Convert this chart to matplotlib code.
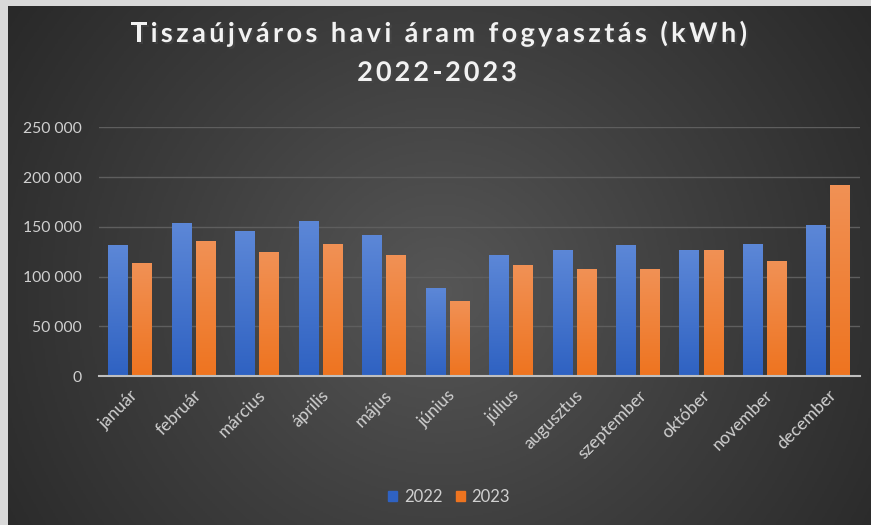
import numpy as np
import matplotlib
matplotlib.use("Agg")
import matplotlib.pyplot as plt
import matplotlib.patheffects as pe
from matplotlib.colors import LinearSegmentedColormap
from matplotlib.font_manager import FontProperties
from matplotlib.patches import Patch
from matplotlib.ticker import FuncFormatter

# adatok (leolvasva)
months = ["január", "február", "március", "április", "május", "június",
          "július", "augusztus", "szeptember", "október", "november", "december"]
kwh_2022 = [130800, 153300, 145600, 155600, 141600, 88000,
            120800, 126500, 131300, 125800, 132500, 151600]
kwh_2023 = [113100, 135500, 123800, 131800, 121200, 75300,
            111100, 107400, 107100, 125800, 114800, 191800]
years = ["2022", "2023"]
title_lines = ["Tiszaújváros havi áram fogyasztás (kWh)", "2022-2023"]

plt.rcParams["font.family"] = ["Lato", "DejaVu Sans"]

W, H = 871, 525
fig = plt.figure(figsize=(W / 100, H / 100), dpi=100)
fig.patch.set_facecolor("#D9D9D9")

# sötét háttér radiális színátmenettel
bg = fig.add_axes([8 / W, 0, 1 - 8 / W, 1 - 6 / H])
bg.axis("off")
yy, xx = np.mgrid[0:1:300j, 0:1:500j]
r = np.sqrt((xx - 0.5) ** 2 + ((yy - 0.45) * 0.62) ** 2)
r = np.clip(r / 0.62, 0, 1)
bg_cmap = LinearSegmentedColormap.from_list("bg", ["#565656", "#3e3e3e", "#282828"])
bg.imshow(r, cmap=bg_cmap, extent=[0, 1, 0, 1], aspect="auto", origin="lower", vmin=0, vmax=1)
bg.set_xlim(0, 1)
bg.set_ylim(0, 1)

ax = fig.add_axes([98.5 / W, 1 - 376 / H, (860 - 98.5) / W, (376 - 127.3) / H])
ax.set_facecolor("none")

x = np.arange(len(months))
bw = 0.31
off = 0.19
colors = {"2022": ("#5C87D7", "#2F62C2"), "2023": ("#F19155", "#EE7420")}

for vals, sgn, yr in [(kwh_2022, -1, "2022"), (kwh_2023, 1, "2023")]:
    top_c, bot_c = colors[yr]
    bars = ax.bar(x + sgn * off, vals, width=bw, color=bot_c, zorder=2)
    cm = LinearSegmentedColormap.from_list(yr, [bot_c, top_c])
    grad = np.linspace(0, 1, 100).reshape(-1, 1)
    for b in bars:
        x0 = b.get_x()
        ax.imshow(grad, cmap=cm, extent=[x0, x0 + b.get_width(), 0, b.get_height()],
                  aspect="auto", origin="lower", zorder=3)

ax.set_xlim(-0.5, len(months) - 0.5)
ax.set_ylim(0, 250000)
ax.set_yticks(range(0, 250001, 50000))
ax.yaxis.set_major_formatter(FuncFormatter(lambda v, p: f"{int(v):,}".replace(",", " ")))
ax.grid(axis="y", color="#5e5e5e", linewidth=1, zorder=0)
ax.set_axisbelow(True)
for s in ["top", "right", "left"]:
    ax.spines[s].set_visible(False)
ax.spines["bottom"].set_color("#BFBFBF")
ax.spines["bottom"].set_linewidth(1.5)
ax.spines["bottom"].set_zorder(4)

ax.set_xticks(x)
ax.set_xticklabels(months, rotation=45, ha="right", rotation_mode="anchor")
ax.tick_params(axis="x", length=0, pad=8, labelsize=12.5, labelcolor="#D0D0D0")
ax.tick_params(axis="y", length=0, pad=12, labelsize=11.3, labelcolor="#D0D0D0")


def spaced_text(xc, y_base, s, spacing, size):
    """Ritkított betűközű szöveg (mint az Excel címben)."""
    fp = FontProperties(family=["Lato", "DejaVu Sans"], weight="bold", size=size)
    rend = fig.canvas.get_renderer()
    widths = [rend.get_text_width_height_descent(c, fp, ismath=False)[0] for c in s]
    total = sum(widths) + spacing * (len(s) - 1)
    xp = xc - total / 2
    for c, w in zip(s, widths):
        fig.text(xp / W, 1 - y_base / H, c, ha="left", va="baseline", fontproperties=fp,
                 color="#F2F2F2",
                 path_effects=[pe.SimplePatchShadow(offset=(1.5, -1.5), alpha=0.6), pe.Normal()])
        xp += w + spacing


spaced_text(439, 42, title_lines[0], 3.4, 19.5)
spaced_text(437, 81, title_lines[1], 3.0, 19.5)

handles = [Patch(color=colors[y][1]) for y in years]
fig.legend(handles, years, loc="center", bbox_to_anchor=(449 / W, 1 - 497 / H), ncol=2,
           frameon=False, fontsize=12, labelcolor="#D0D0D0", handlelength=0.55,
           handleheight=0.55, handletextpad=0.4, columnspacing=0.8)

fig.savefig("out.png", dpi=100, facecolor=fig.get_facecolor())
